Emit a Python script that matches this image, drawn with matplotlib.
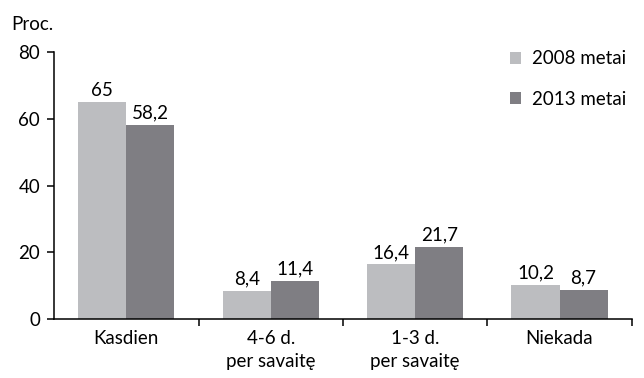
import numpy as np
import matplotlib
matplotlib.use('Agg')
from matplotlib import pyplot as plt

categories = ['Kasdien', '4-6 d.\nper savaitę', '1-3 d.\nper savaitę', 'Niekada']
vals_2008 = [65, 8.4, 16.4, 10.2]
vals_2013 = [58.2, 11.4, 21.7, 8.7]
series_names = ['2008 metai', '2013 metai']
yticks = [0, 20, 40, 60, 80]

plt.rcParams['font.family'] = ['Lato', 'DejaVu Sans']
plt.rcParams['font.size'] = 13.5
plt.rcParams['axes.linewidth'] = 1.1

fig = plt.figure(figsize=(6.44, 3.78), dpi=100)
ax = fig.add_axes([0.084, 0.156, 0.897, 0.706])

x = np.arange(len(categories))
w = 0.333
b1 = ax.bar(x - w / 2, vals_2008, w, color='#bcbdc0', label=series_names[0])
b2 = ax.bar(x + w / 2, vals_2013, w, color='#7f7e83', label=series_names[1])

def fmt(v):
    s = f'{v:g}'
    return s.replace('.', ',')

for bars, vals in ((b1, vals_2008), (b2, vals_2013)):
    for bar, v in zip(bars, vals):
        ax.text(bar.get_x() + bar.get_width() / 2, v + 1.0, fmt(v),
                ha='center', va='bottom', fontsize=13.5)

ax.set_xlim(-0.5, 3.5)
ax.set_ylim(0, 80)
ax.set_yticks(yticks)
ax.set_xticks(x)
ax.set_xticklabels(categories, linespacing=1.45)
ax.tick_params(axis='x', length=0, pad=8)
ax.set_xticks(np.arange(0.5, 3.6, 1), minor=True)
ax.tick_params(axis='x', which='minor', length=5, width=1.1)
ax.tick_params(axis='y', length=5, width=1.1, pad=5)
for s in ('top', 'right'):
    ax.spines[s].set_visible(False)

fig.text(0.018, 0.92, 'Proc.', fontsize=13.5)

ax.legend(loc='upper right', bbox_to_anchor=(1.02, 1.07), frameon=False,
          handlelength=0.6, handleheight=0.6, labelspacing=1.25, handletextpad=0.6)

fig.savefig('out.png', dpi=100)
